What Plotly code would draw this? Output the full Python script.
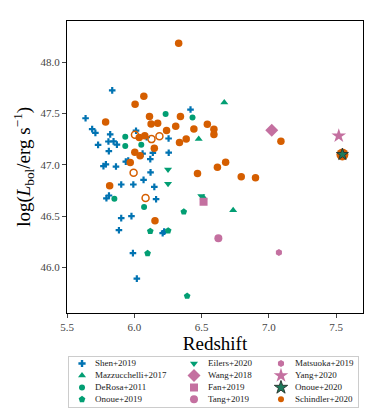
import plotly.graph_objects as go

# Shen+2019
shen_z = [5.836, 5.638, 5.687, 5.711, 5.821, 6.013, 6.092, 5.731, 5.808, 5.846,
          5.871, 5.811, 6.062, 6.138, 6.256, 6.255, 6.418, 5.771, 5.789, 5.864,
          5.937, 5.955, 6.119, 6.121, 5.903, 5.993, 6.069, 6.149, 5.793, 5.812,
          6.162, 5.903, 5.979, 5.886, 6.211, 6.222, 5.990, 6.019]
shen_l = [47.725, 47.453, 47.347, 47.311, 47.296, 47.332, 47.269, 47.194, 47.227, 47.228,
          47.196, 47.133, 47.109, 47.117, 47.118, 47.256, 47.538, 46.987, 47.005, 46.983,
          47.031, 47.041, 47.055, 46.926, 46.808, 46.808, 46.853, 46.785, 46.674, 46.701,
          46.665, 46.481, 46.500, 46.363, 46.334, 46.349, 46.140, 45.892]

mazz_z = [6.669, 6.479, 6.735, 6.515]
mazz_l = [47.607, 47.251, 46.557, 46.682]

derosa_z = [6.233, 6.433, 5.933, 5.933, 6.052, 5.852, 6.073]
derosa_l = [47.495, 47.460, 47.274, 47.182, 47.196, 46.670, 46.589]

onoue19_z = [6.368, 6.119, 6.252, 6.099, 6.393]
onoue19_l = [46.543, 46.354, 46.359, 46.138, 45.723]

eilers_z = [6.251, 6.251, 6.498]
eilers_l = [46.955, 46.815, 46.696]

wang_z, wang_l = [7.022], [47.337]
fan_z, fan_l = [6.515], [46.641]
tang_z, tang_l = [6.625], [46.285]
matsuoka_z, matsuoka_l = [7.075], [46.146]
yang_z, yang_l = [7.520], [47.282]
onoue20_z, onoue20_l = [7.547], [47.101]

schindler_z = [6.330, 6.071, 6.006, 6.113, 6.343, 5.787, 6.125, 6.174, 6.240, 6.308,
               6.443, 6.543, 6.592, 6.592, 6.037, 6.078, 6.336, 6.386, 6.149, 6.004,
               6.043, 5.970, 6.679, 6.618, 6.470, 6.795, 6.901, 7.090, 5.817, 6.154]
schindler_l = [48.183, 47.667, 47.589, 47.470, 47.470, 47.417, 47.397, 47.405, 47.335, 47.376,
               47.349, 47.395, 47.347, 47.296, 47.266, 47.283, 47.217, 47.251, 47.162, 47.123,
               47.089, 47.023, 47.026, 46.975, 46.915, 46.883, 46.874, 47.230, 46.795, 46.455]
schindler_big_z, schindler_big_l = [7.547], [47.101]
schindler_open_z = [6.005, 6.128, 6.187, 5.995, 6.084]
schindler_open_l = [47.293, 47.250, 47.279, 46.922, 46.677]

blue = '#0173B2'
green = '#029E73'
orange = '#D55E00'
pink = '#C470A0'

# name, x, y, symbol, color, size in plot, size in legend, outline
series = [
    ('Shen+2019', shen_z, shen_l, 'cross', blue, 5.5, 6, None),
    ('Mazzucchelli+2017', mazz_z, mazz_l, 'triangle-up', green, 7, 7, None),
    ('DeRosa+2011', derosa_z, derosa_l, 'circle', green, 6, 6, None),
    ('Onoue+2019', onoue19_z, onoue19_l, 'pentagon', green, 7, 7, None),
    ('Eilers+2020', eilers_z, eilers_l, 'triangle-down', green, 7, 7, None),
    ('Wang+2018', wang_z, wang_l, 'diamond', pink, 10, 10, None),
    ('Fan+2019', fan_z, fan_l, 'square', pink, 8, 8, None),
    ('Tang+2019', tang_z, tang_l, 'circle', pink, 8, 8, None),
    ('Matsuoka+2019', matsuoka_z, matsuoka_l, 'hexagon', pink, 7, 7, None),
    ('Yang+2020', yang_z, yang_l, 'star', pink, 11, 11, None),
    ('Onoue+2020', onoue20_z, onoue20_l, 'star', '#1d7a5c', 9, 10, dict(width=1, color='#2b3a33')),
    ('Schindler+2020', schindler_z, schindler_l, 'circle', orange, 7.5, 6, None),
]

fig = go.Figure()

# big orange disc that sits under the Onoue+2020 star
fig.add_trace(go.Scatter(x=schindler_big_z, y=schindler_big_l, mode='markers', showlegend=False,
                         marker=dict(symbol='circle', color=orange, size=12, line=dict(width=0))))

for name, x, y, sym, col, size, lsize, edge in series:
    if name == 'Onoue+2020':
        continue
    fig.add_trace(go.Scatter(x=x, y=y, mode='markers', name=name, showlegend=False,
                             marker=dict(symbol=sym, color=col, size=size,
                                         line=edge or dict(width=0))))

fig.add_trace(go.Scatter(x=schindler_open_z, y=schindler_open_l, mode='markers', showlegend=False,
                         marker=dict(symbol='circle-open', color=orange, size=7,
                                     line=dict(width=1.5, color=orange))))
s = series[10]
fig.add_trace(go.Scatter(x=s[1], y=s[2], mode='markers', showlegend=False,
                         marker=dict(symbol=s[3], color=s[4], size=s[5], line=s[7])))

# legend box: drawn in its own little axes below the plot, 3 columns x 4 rows
col_sym = [13, 125, 212]
col_txt = [26, 139, 226]
row_y = [6.5, 18.5, 30.5, 42.3]
for i, (name, x, y, sym, col, size, lsize, edge) in enumerate(series):
    c, r = i // 4, i % 4
    fig.add_trace(go.Scatter(x=[col_sym[c]], y=[row_y[r]], xaxis='x2', yaxis='y2',
                             mode='markers', showlegend=False, hoverinfo='skip',
                             marker=dict(symbol=sym, color=col, size=lsize,
                                         line=edge or dict(width=0))))
    fig.add_trace(go.Scatter(x=[col_txt[c]], y=[row_y[r]], xaxis='x2', yaxis='y2',
                             mode='text', text=[name], textposition='middle right',
                             showlegend=False, hoverinfo='skip',
                             textfont=dict(size=9, color='#222')))

# the page body adds an 8px margin, so the figure is 8px smaller each way
fig.update_layout(
    width=366, height=403,
    margin=dict(l=59, r=11, t=13, b=4, autoexpand=False),
    plot_bgcolor='white', paper_bgcolor='white',
    font=dict(family='Liberation Serif', color='black', size=10),
    showlegend=False,
    xaxis=dict(domain=[0, 1], anchor='y'),
    yaxis=dict(domain=[0.2443, 1], anchor='x'),
    xaxis2=dict(domain=[0.0068, 0.983], anchor='y2', range=[0, 289],
                showgrid=False, zeroline=False, showticklabels=False, ticks='',
                showline=True, mirror=True, linecolor='#cccccc', linewidth=1),
    yaxis2=dict(domain=[0, 0.1295], anchor='x2', range=[50, 0],
                showgrid=False, zeroline=False, showticklabels=False, ticks='',
                showline=True, mirror=True, linecolor='#cccccc', linewidth=1),
)
fig.update_xaxes(selector=dict(anchor='y'), range=[5.5, 7.7],
                 tickvals=[5.5, 6.0, 6.5, 7.0, 7.5],
                 ticktext=['5.5', '6.0', '6.5', '7.0', '7.5'],
                 showgrid=False, zeroline=False, showline=True, linecolor='black',
                 linewidth=1.2, mirror=True, ticks='outside', ticklen=4,
                 tickfont=dict(size=11, color='#444'),
                 title=dict(text='Redshift', font=dict(size=19), standoff=2))
fig.update_yaxes(selector=dict(anchor='x'), range=[45.56, 48.40],
                 tickvals=[46.0, 46.5, 47.0, 47.5, 48.0],
                 ticktext=['46.0', '46.5', '47.0', '47.5', '48.0'],
                 showgrid=False, zeroline=False, showline=True, linecolor='black',
                 linewidth=1.2, mirror=True, ticks='outside', ticklen=4,
                 tickfont=dict(size=11, color='#444'),
                 title=dict(text='log(<i>L</i><sub>bol</sub>/erg s<sup>−1</sup>)',
                            font=dict(size=19), standoff=4))

fig.write_html('out.html')
